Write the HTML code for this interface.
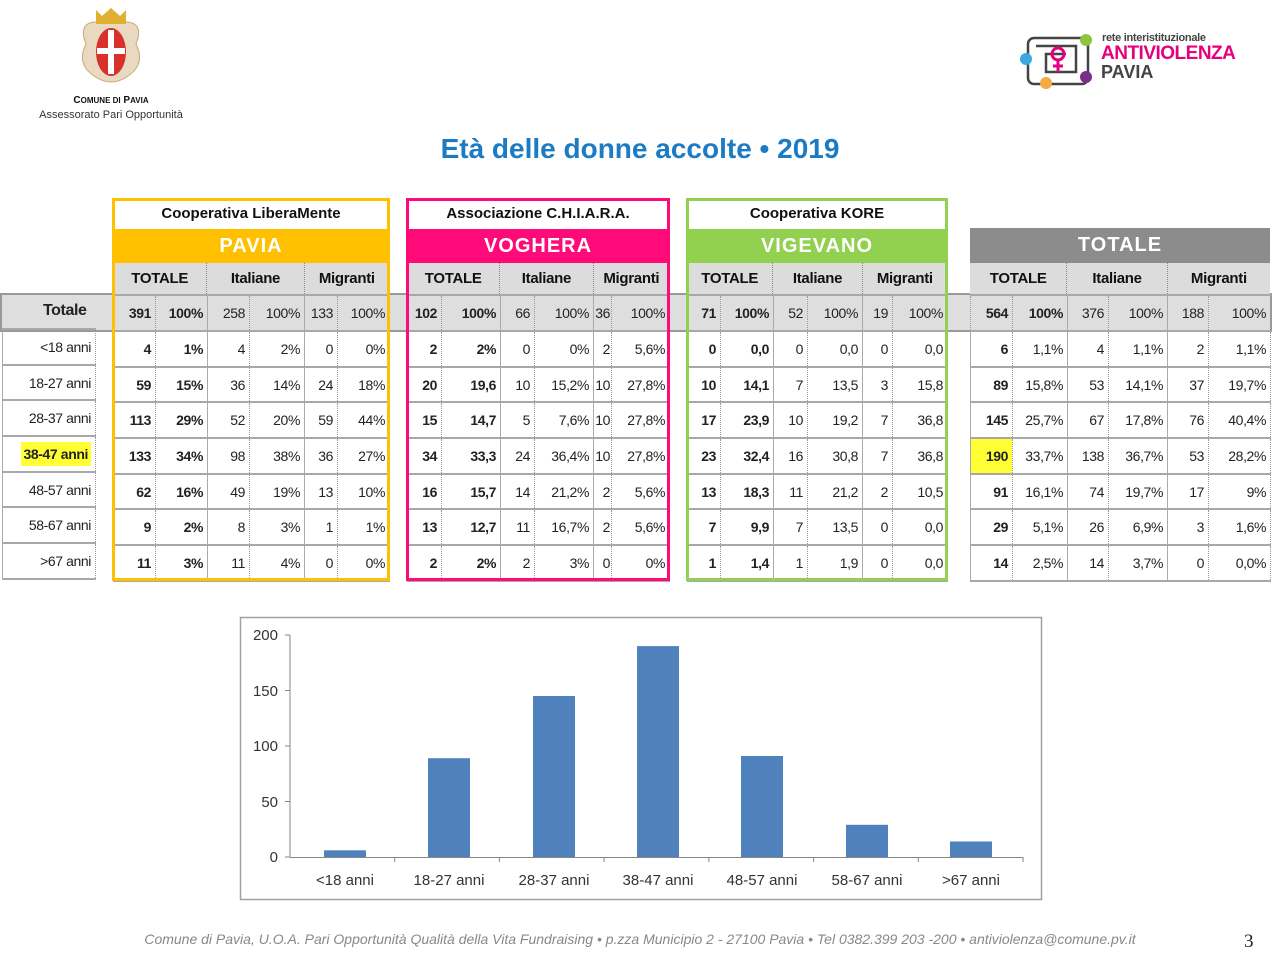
<!DOCTYPE html>
<html><head><meta charset="utf-8"><style>
body{margin:0;width:1280px;height:953px;background:#fff;position:relative;overflow:hidden;font-family:"Liberation Sans",sans-serif}
.a{position:absolute}
table{position:absolute;border-collapse:collapse;table-layout:fixed;font-family:"Liberation Sans Narrow","Liberation Sans",sans-serif;font-size:14px;letter-spacing:-0.4px;color:#222}
td{border-top:2px solid #a8a8a8;border-bottom:2px solid #a8a8a8;border-left:1px dotted #999;border-right:1px dotted #999;text-align:right;padding:0 4px 0 0;height:33.7px;white-space:nowrap;overflow:hidden}
td.s{border-left:1px solid #aaa}
tr.t td{height:34px}
.b{font-weight:bold}
.org{position:absolute;top:199px;height:30px;background:#fff;text-align:center;font-weight:bold;font-size:15px;line-height:30px;color:#111}
.city{position:absolute;top:229px;height:34px;text-align:center;color:#fff;font-weight:bold;font-size:20px;line-height:34px;letter-spacing:1px}
.sub{position:absolute;top:263px;height:31px;background:#dcdcdc;display:flex;font-family:"Liberation Sans Narrow","Liberation Sans",sans-serif;font-weight:bold;font-size:15px;letter-spacing:-0.3px;line-height:31px;color:#111}
.sub div{text-align:center;border-right:1px dotted #888}
.frame{position:absolute;top:198px;height:377px;border:3px solid}
</style></head><body>

<!-- left logo -->
<svg class="a" style="left:76px;top:4px" width="70" height="86" viewBox="0 0 70 86">
<path d="M10 40 Q2 20 18 18 L52 18 Q68 20 60 40 Q70 60 52 72 Q35 84 18 72 Q0 60 10 40Z" fill="#e8d9c0" stroke="#c9a97a"/>
<path d="M20 6 L26 12 L35 4 L44 12 L50 6 L50 20 L20 20Z" fill="#e0b030"/>
<ellipse cx="35" cy="48" rx="15" ry="24" fill="#d8302a"/>
<rect x="32" y="26" width="6" height="44" fill="#fff"/><rect x="21" y="44" width="28" height="6" fill="#fff"/>
</svg>
<div class="a" style="left:20px;top:95px;width:182px;text-align:center;font-size:10px;font-weight:bold;color:#111">C<span style="font-size:8px">OMUNE DI</span> P<span style="font-size:8px">AVIA</span></div>
<div class="a" style="left:20px;top:109px;width:182px;text-align:center;font-size:11px;color:#333">Assessorato Pari Opportunità</div>

<!-- right logo -->
<svg class="a" style="left:1016px;top:32px" width="90" height="60" viewBox="0 0 90 60">
<g fill="none" stroke="#444" stroke-width="2.5"><rect x="12" y="6" width="60" height="46" rx="6"/><path d="M20 14 H60 V40 H30 V22 H50"/></g>
<circle cx="10" cy="27" r="6" fill="#3aa9e0"/><circle cx="70" cy="8" r="6" fill="#8cc63f"/><circle cx="30" cy="51" r="6" fill="#f7a944"/><circle cx="70" cy="45" r="6" fill="#7b2d8e"/>
<circle cx="42" cy="22" r="6" fill="none" stroke="#e6007e" stroke-width="3"/><path d="M42 28 V40 M37 34 H47" stroke="#e6007e" stroke-width="3"/>
</svg>
<div class="a" style="left:1102px;top:32px;font-size:11px;font-weight:bold;color:#444;letter-spacing:-0.3px">rete interistituzionale</div>
<div class="a" style="left:1101px;top:43px;font-size:19px;font-weight:bold;color:#e6007e;letter-spacing:-0.5px">ANTIVIOLENZA</div>
<div class="a" style="left:1101px;top:62px;font-size:18px;font-weight:bold;color:#444">PAVIA</div>

<div class="a" style="left:0;top:133px;width:1280px;text-align:center;font-size:28px;font-weight:bold;color:#1b7cc3">Età delle donne accolte • 2019</div>

<!-- Totale band -->
<div class="a" style="left:0;top:293px;width:1268px;height:35px;background:#dedede;border:2px solid #999"></div>

<!-- headers -->
<div class="org" style="left:113px;width:276px">Cooperativa LiberaMente</div>
<div class="city" style="left:113px;width:276px;background:#ffc000">PAVIA</div>
<div class="sub" style="left:113px;width:276px"><div style="width:94px">TOTALE</div><div style="width:97px">Italiane</div><div style="width:85px;border:0">Migranti</div></div>

<div class="org" style="left:407px;width:262px">Associazione C.H.I.A.R.A.</div>
<div class="city" style="left:407px;width:262px;background:#ff0a78">VOGHERA</div>
<div class="sub" style="left:407px;width:262px"><div style="width:93px">TOTALE</div><div style="width:93px">Italiane</div><div style="width:76px;border:0">Migranti</div></div>

<div class="org" style="left:687px;width:260px">Cooperativa KORE</div>
<div class="city" style="left:687px;width:260px;background:#92d050">VIGEVANO</div>
<div class="sub" style="left:687px;width:260px"><div style="width:86px">TOTALE</div><div style="width:89px">Italiane</div><div style="width:85px;border:0">Migranti</div></div>

<div class="city" style="left:970px;width:300px;top:228px;height:35px;background:#8c8c8c">TOTALE</div>
<div class="sub" style="left:970px;width:300px"><div style="width:97px">TOTALE</div><div style="width:100px">Italiane</div><div style="width:103px;border:0">Migranti</div></div>

<!-- label column -->
<table style="left:2px;top:294px;width:93px"><col style="width:93px">
<tr class="t"><td class="b" style="font-family:'Liberation Sans',sans-serif;font-size:16px;border:0;padding-right:9px">Totale</td></tr>
<tr><td class="s">&lt;18 anni</td></tr>
<tr><td class="s">18-27 anni</td></tr>
<tr><td class="s">28-37 anni</td></tr>
<tr><td class="s"><span style="background:#ffff33;font-weight:bold;padding:4px 3px">38-47 anni</span></td></tr>
<tr><td class="s">48-57 anni</td></tr>
<tr><td class="s">58-67 anni</td></tr>
<tr><td class="s">&gt;67 anni</td></tr>
</table>

<table style="left:113px;top:294px;width:276px"><col style="width:42px"><col style="width:52px"><col style="width:42px"><col style="width:55px"><col style="width:33px"><col style="width:52px">
<tr class="t"><td class="b">391</td><td class="b">100%</td><td class="s">258</td><td>100%</td><td class="s">133</td><td>100%</td></tr>
<tr><td class="b">4</td><td class="b">1%</td><td class="s">4</td><td>2%</td><td class="s">0</td><td>0%</td></tr>
<tr><td class="b">59</td><td class="b">15%</td><td class="s">36</td><td>14%</td><td class="s">24</td><td>18%</td></tr>
<tr><td class="b">113</td><td class="b">29%</td><td class="s">52</td><td>20%</td><td class="s">59</td><td>44%</td></tr>
<tr><td class="b">133</td><td class="b">34%</td><td class="s">98</td><td>38%</td><td class="s">36</td><td>27%</td></tr>
<tr><td class="b">62</td><td class="b">16%</td><td class="s">49</td><td>19%</td><td class="s">13</td><td>10%</td></tr>
<tr><td class="b">9</td><td class="b">2%</td><td class="s">8</td><td>3%</td><td class="s">1</td><td>1%</td></tr>
<tr><td class="b">11</td><td class="b">3%</td><td class="s">11</td><td>4%</td><td class="s">0</td><td>0%</td></tr>
</table>

<table style="left:407px;top:294px;width:262px"><col style="width:34px"><col style="width:59px"><col style="width:34px"><col style="width:59px"><col style="width:18px"><col style="width:58px">
<tr class="t"><td class="b">102</td><td class="b">100%</td><td class="s">66</td><td>100%</td><td class="s" style="padding-right:1px">36</td><td>100%</td></tr>
<tr><td class="b">2</td><td class="b">2%</td><td class="s">0</td><td>0%</td><td class="s" style="padding-right:1px">2</td><td>5,6%</td></tr>
<tr><td class="b">20</td><td class="b">19,6</td><td class="s">10</td><td>15,2%</td><td class="s" style="padding-right:1px">10</td><td>27,8%</td></tr>
<tr><td class="b">15</td><td class="b">14,7</td><td class="s">5</td><td>7,6%</td><td class="s" style="padding-right:1px">10</td><td>27,8%</td></tr>
<tr><td class="b">34</td><td class="b">33,3</td><td class="s">24</td><td>36,4%</td><td class="s" style="padding-right:1px">10</td><td>27,8%</td></tr>
<tr><td class="b">16</td><td class="b">15,7</td><td class="s">14</td><td>21,2%</td><td class="s" style="padding-right:1px">2</td><td>5,6%</td></tr>
<tr><td class="b">13</td><td class="b">12,7</td><td class="s">11</td><td>16,7%</td><td class="s" style="padding-right:1px">2</td><td>5,6%</td></tr>
<tr><td class="b">2</td><td class="b">2%</td><td class="s">2</td><td>3%</td><td class="s" style="padding-right:1px">0</td><td>0%</td></tr>
</table>

<table style="left:687px;top:294px;width:260px"><col style="width:33px"><col style="width:53px"><col style="width:34px"><col style="width:55px"><col style="width:30px"><col style="width:55px">
<tr class="t"><td class="b">71</td><td class="b">100%</td><td class="s">52</td><td>100%</td><td class="s">19</td><td>100%</td></tr>
<tr><td class="b">0</td><td class="b">0,0</td><td class="s">0</td><td>0,0</td><td class="s">0</td><td>0,0</td></tr>
<tr><td class="b">10</td><td class="b">14,1</td><td class="s">7</td><td>13,5</td><td class="s">3</td><td>15,8</td></tr>
<tr><td class="b">17</td><td class="b">23,9</td><td class="s">10</td><td>19,2</td><td class="s">7</td><td>36,8</td></tr>
<tr><td class="b">23</td><td class="b">32,4</td><td class="s">16</td><td>30,8</td><td class="s">7</td><td>36,8</td></tr>
<tr><td class="b">13</td><td class="b">18,3</td><td class="s">11</td><td>21,2</td><td class="s">2</td><td>10,5</td></tr>
<tr><td class="b">7</td><td class="b">9,9</td><td class="s">7</td><td>13,5</td><td class="s">0</td><td>0,0</td></tr>
<tr><td class="b">1</td><td class="b">1,4</td><td class="s">1</td><td>1,9</td><td class="s">0</td><td>0,0</td></tr>
</table>

<table style="left:970px;top:294px;width:300px"><col style="width:42px"><col style="width:55px"><col style="width:41px"><col style="width:59px"><col style="width:41px"><col style="width:62px">
<tr class="t"><td class="b">564</td><td class="b">100%</td><td class="s">376</td><td>100%</td><td class="s">188</td><td>100%</td></tr>
<tr><td class="b s">6</td><td>1,1%</td><td class="s">4</td><td>1,1%</td><td class="s">2</td><td>1,1%</td></tr>
<tr><td class="b s">89</td><td>15,8%</td><td class="s">53</td><td>14,1%</td><td class="s">37</td><td>19,7%</td></tr>
<tr><td class="b s">145</td><td>25,7%</td><td class="s">67</td><td>17,8%</td><td class="s">76</td><td>40,4%</td></tr>
<tr><td class="b s" style="background:#ffff33">190</td><td>33,7%</td><td class="s">138</td><td>36,7%</td><td class="s">53</td><td>28,2%</td></tr>
<tr><td class="b s">91</td><td>16,1%</td><td class="s">74</td><td>19,7%</td><td class="s">17</td><td>9%</td></tr>
<tr><td class="b s">29</td><td>5,1%</td><td class="s">26</td><td>6,9%</td><td class="s">3</td><td>1,6%</td></tr>
<tr><td class="b s">14</td><td>2,5%</td><td class="s">14</td><td>3,7%</td><td class="s">0</td><td>0,0%</td></tr>
</table>

<div class="frame" style="left:112px;width:272px;border-color:#ffc000"></div>
<div class="frame" style="left:406px;width:258px;border-color:#ff0a78"></div>
<div class="frame" style="left:686px;width:256px;border-color:#92d050"></div>

<!-- chart -->
<svg class="a" style="left:0;top:0" width="1280" height="953">
<rect x="240.5" y="617.5" width="801" height="282" fill="none" stroke="#a0a0a0" stroke-width="1.5"/>
<g stroke="#868686" stroke-width="1">
<line x1="290" y1="635" x2="290" y2="857"/>
<line x1="290" y1="857.5" x2="1023" y2="857.5"/>
<line x1="285" y1="635" x2="290" y2="635"/><line x1="285" y1="690.5" x2="290" y2="690.5"/><line x1="285" y1="746" x2="290" y2="746"/><line x1="285" y1="801.5" x2="290" y2="801.5"/><line x1="285" y1="857" x2="290" y2="857"/>
<line x1="394.7" y1="857" x2="394.7" y2="862"/><line x1="499.4" y1="857" x2="499.4" y2="862"/><line x1="604.1" y1="857" x2="604.1" y2="862"/><line x1="708.9" y1="857" x2="708.9" y2="862"/><line x1="813.6" y1="857" x2="813.6" y2="862"/><line x1="918.3" y1="857" x2="918.3" y2="862"/><line x1="1023" y1="857" x2="1023" y2="862"/>
</g>
<g fill="#4f81bd">
<rect x="324" y="850.3" width="42" height="6.7"/>
<rect x="428" y="758.2" width="42" height="98.8"/>
<rect x="533" y="696" width="42" height="161"/>
<rect x="637" y="646.1" width="42" height="210.9"/>
<rect x="741" y="756" width="42" height="101"/>
<rect x="846" y="824.8" width="42" height="32.2"/>
<rect x="950" y="841.5" width="42" height="15.5"/>
</g>
<g font-family="Liberation Sans, sans-serif" font-size="15" fill="#333" text-anchor="end">
<text x="278" y="640">200</text><text x="278" y="696">150</text><text x="278" y="751">100</text><text x="278" y="807">50</text><text x="278" y="862">0</text>
</g>
<g font-family="Liberation Sans, sans-serif" font-size="15" fill="#333" text-anchor="middle">
<text x="345" y="885">&lt;18 anni</text><text x="449" y="885">18-27 anni</text><text x="554" y="885">28-37 anni</text><text x="658" y="885">38-47 anni</text><text x="762" y="885">48-57 anni</text><text x="867" y="885">58-67 anni</text><text x="971" y="885">&gt;67 anni</text>
</g>
</svg>

<div class="a" style="left:60px;top:931px;width:1160px;text-align:center;font-size:14px;font-style:italic;color:#888">Comune di Pavia, U.O.A. Pari Opportunità Qualità della Vita Fundraising • p.zza Municipio 2 - 27100 Pavia • Tel 0382.399 203 -200 • antiviolenza@comune.pv.it</div>
<div class="a" style="left:1244px;top:931px;font-family:'Liberation Serif',serif;font-size:19px;color:#222">3</div>
</body></html>
